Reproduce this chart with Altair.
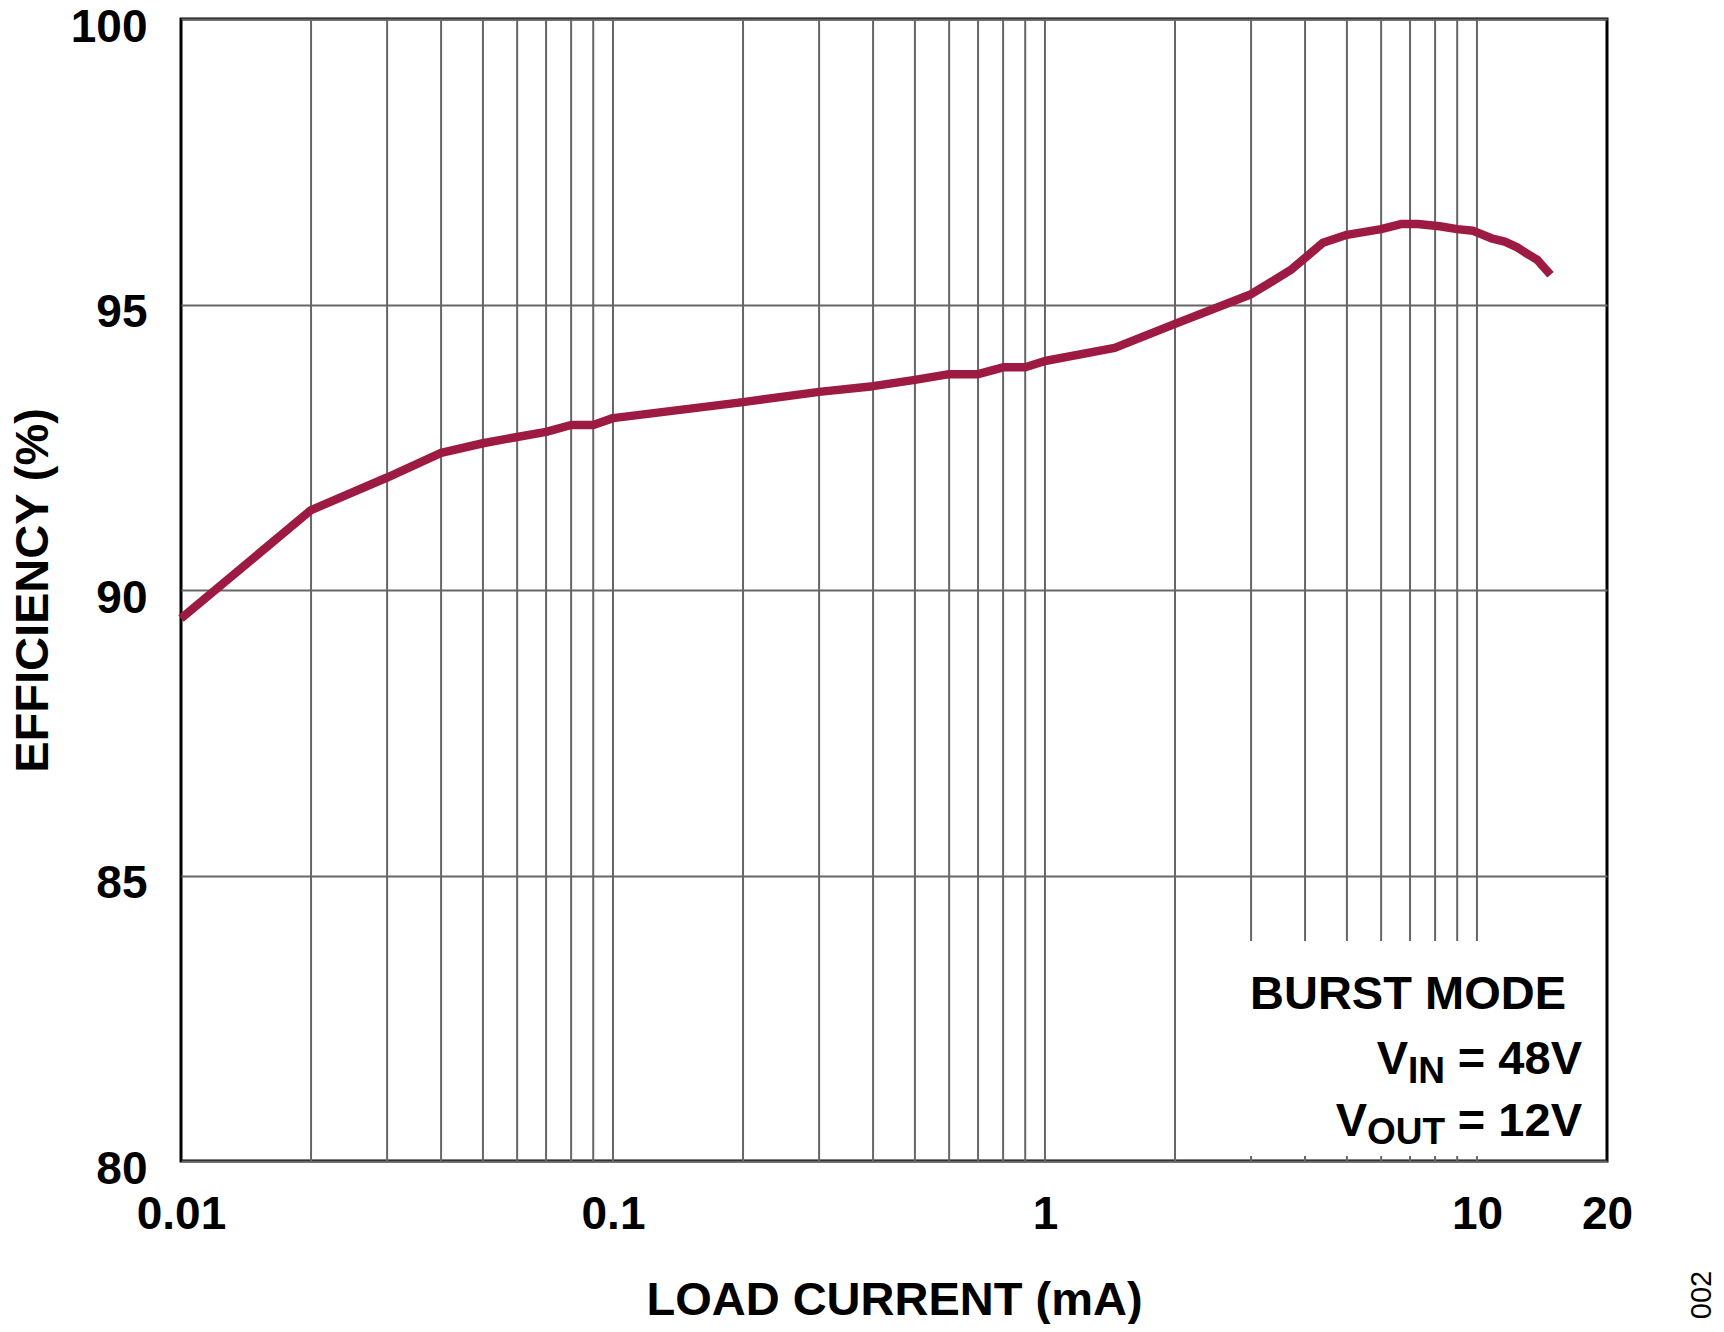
import altair as alt
import pandas as pd

# ---- data ----
load_current_ma = [0.01, 0.02, 0.03, 0.04, 0.05, 0.06, 0.07, 0.08, 0.09, 0.1,
                   0.2, 0.3, 0.4, 0.5, 0.6, 0.7, 0.8, 0.9, 1.0, 1.45, 2.0,
                   3.0, 3.7, 4.4, 5.0, 6.0, 6.7, 7.3, 8.2, 9.0, 9.8, 10.8,
                   11.6, 12.4, 13.0, 13.8, 14.8]
efficiency_pct = [89.5, 91.4, 91.97, 92.4, 92.57, 92.68, 92.77, 92.89, 92.89, 93.01,
                  93.29, 93.47, 93.57, 93.68, 93.78, 93.78, 93.9, 93.9, 94.01, 94.24, 94.66,
                  95.18, 95.6, 96.08, 96.22, 96.32, 96.41, 96.41, 96.37, 96.32, 96.29, 96.16,
                  96.1, 96.0, 95.9, 95.78, 95.52]

x_tick_values = [0.01, 0.1, 1, 10, 20]
y_tick_values = [80, 85, 90, 95, 100]
grid_full = [0.02, 0.03, 0.04, 0.05, 0.06, 0.07, 0.08, 0.09, 0.1,
             0.2, 0.3, 0.4, 0.5, 0.6, 0.7, 0.8, 0.9, 1, 2]
grid_partial = [3, 4, 5, 6, 7, 8, 9, 10]

title_x = "LOAD CURRENT (mA)"
title_y = "EFFICIENCY (%)"
note_mode = "BURST MODE"
note_vin = ["V", "IN", "= 48V"]
note_vout = ["V", "OUT", "= 12V"]
figure_id = "002"

W, H = 1426, 1142
FONT = "Liberation Sans"
LINE_COLOR = "#9D1B43"
GRID_COLOR = "#666666"

xscale = alt.Scale(type="log", domain=[0.01, 20], nice=False)
yscale = alt.Scale(domain=[80, 100], nice=False, zero=False)

df = pd.DataFrame({"x": load_current_ma, "y": efficiency_pct})
gfull = pd.DataFrame({"x": grid_full})
gpart = pd.DataFrame({"x": grid_partial})

xaxis = alt.Axis(values=x_tick_values, format="~g", grid=False, ticks=False, domain=False,
                 labelFont=FONT, labelFontSize=46, labelFontWeight="bold", labelColor="black",
                 labelPadding=31, labelBaseline="top", labelFlush=False, labelOverlap=False,
                 title=title_x, titleFont=FONT, titleFontSize=47, titleFontWeight="bold",
                 titleColor="black", titleBaseline="alphabetic", titleY=153)
yaxis = alt.Axis(values=y_tick_values, grid=True, gridColor=GRID_COLOR, gridWidth=2,
                 ticks=False, domain=False,
                 labelFont=FONT, labelFontSize=46, labelFontWeight="bold", labelColor="black",
                 labelPadding=34, labelBaseline="middle", labelOffset=8, labelFlush=False,
                 title=title_y, titleFont=FONT, titleFontSize=47, titleFontWeight="bold",
                 titleColor="black", titleBaseline="alphabetic", titleAngle=270, titleX=-134)

line = alt.Chart(df).mark_line(color=LINE_COLOR, strokeWidth=8.5, strokeCap="butt",
                               strokeJoin="round").encode(
    x=alt.X("x:Q", scale=xscale, axis=xaxis),
    y=alt.Y("y:Q", scale=yscale, axis=yaxis),
)

rules_full = alt.Chart(gfull).mark_rule(color=GRID_COLOR, strokeWidth=2).encode(
    x=alt.X("x:Q", scale=xscale), y=alt.value(0), y2=alt.value(H))
rules_part = alt.Chart(gpart).mark_rule(color=GRID_COLOR, strokeWidth=2).encode(
    x=alt.X("x:Q", scale=xscale), y=alt.value(0), y2=alt.value(922))
ticks_part = alt.Chart(gpart).mark_rule(color=GRID_COLOR, strokeWidth=2).encode(
    x=alt.X("x:Q", scale=xscale), y=alt.value(H - 5), y2=alt.value(H))


def txt(s, x, y, size=47, weight="bold", align="right", angle=0, baseline="alphabetic"):
    return alt.Chart(pd.DataFrame({"t": [s]})).mark_text(
        font=FONT, fontSize=size, fontWeight=weight, color="black",
        align=align, baseline=baseline, angle=angle).encode(
        text="t:N", x=alt.value(x), y=alt.value(y))


notes = [
    txt(note_mode, 1385, 990),
    txt(note_vin[0], 1227, 1055),
    txt(note_vin[1], 1264, 1064, size=37),
    txt(note_vin[2], 1401, 1055),
    txt(note_vout[0], 1186, 1117),
    txt(note_vout[1], 1264, 1125, size=37),
    txt(note_vout[2], 1401, 1117),
    txt(figure_id, 1521, 1276, size=29, weight="normal", align="center", angle=270,
        baseline="middle"),
]

chart = alt.layer(rules_full, rules_part, ticks_part, line, *notes).properties(
    width=W, height=H,
    autosize=alt.AutoSizeParams(type="none"),
    padding={"left": 173, "top": 11, "right": 109, "bottom": 163},
    background="white",
).configure_view(stroke="black", strokeWidth=3)

chart.save("out.html", embed_options={"renderer": "svg", "actions": False})
